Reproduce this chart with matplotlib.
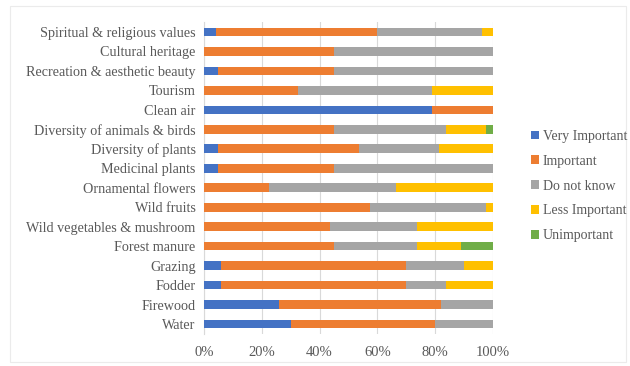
import matplotlib
matplotlib.use("Agg")
import matplotlib.pyplot as plt
import numpy as np
from matplotlib.patches import Rectangle

categories = ["Spiritual & religious values", "Cultural heritage", "Recreation & aesthetic beauty",
              "Tourism", "Clean air", "Diversity of animals & birds", "Diversity of plants",
              "Medicinal plants", "Ornamental flowers", "Wild fruits", "Wild vegetables & mushroom",
              "Forest manure", "Grazing", "Fodder", "Firewood", "Water"]
very_important = [4, 0, 5, 0, 79, 0, 5, 5, 0, 0, 0, 0, 6, 6, 26, 30]
important      = [56, 45, 40, 32.5, 21, 45, 48.7, 40, 22.4, 57.6, 43.7, 44.9, 64, 64, 55.9, 50]
do_not_know    = [36.3, 55, 55, 46.5, 0, 38.7, 27.6, 55, 43.9, 40, 30, 28.8, 20, 13.7, 18.1, 20]
less_important = [3.7, 0, 0, 21, 0, 14, 18.7, 0, 33.7, 2.4, 26.3, 15.1, 10, 16.3, 0, 0]
unimportant    = [0, 0, 0, 0, 0, 2.3, 0, 0, 0, 0, 0, 11.2, 0, 0, 0, 0]
series_names = ["Very Important", "Important", "Do not know", "Less Important", "Unimportant"]
colors = ["#4472C4", "#ED7D31", "#A5A5A5", "#FFC000", "#70AD47"]
xticks = [0, 20, 40, 60, 80, 100]

plt.rcParams['font.family'] = ['Liberation Serif', 'DejaVu Serif']
txt = "#595959"

fig = plt.figure(figsize=(6.3, 3.66), dpi=100)
fig.patches.append(Rectangle((10/630, 4/366), 616/630, 356/366, transform=fig.transFigure,
                             fill=False, edgecolor="#EBEBEB", linewidth=0.8))
ax = fig.add_axes([204/630, 1 - 333.7/366, 289/630, (333.7 - 22.3)/366])

y = np.arange(len(categories))[::-1]
left = np.zeros(len(categories))
for name, vals, c in zip(series_names, [very_important, important, do_not_know, less_important, unimportant], colors):
    vals = np.array(vals, dtype=float)
    ax.barh(y, vals, left=left, height=0.45, color=c, label=name, zorder=3)
    left += vals

ax.set_xlim(0, 100)
ax.set_ylim(-0.5, len(categories) - 0.5)
ax.set_xticks(xticks)
ax.set_xticklabels([f"{t}%" for t in xticks], fontsize=10.5, color=txt)
ax.set_yticks(y)
ax.set_yticklabels(categories, fontsize=10.2, color=txt)
ax.tick_params(axis='both', length=0, pad=6)
ax.tick_params(axis='x', pad=9)
ax.grid(axis='x', color="#D9D9D9", linewidth=0.8, zorder=0)
for s in ["top", "right", "bottom"]:
    ax.spines[s].set_visible(False)
ax.spines["left"].set_color("#D9D9D9")
ax.spines["left"].set_linewidth(0.8)

leg = fig.legend(loc="center left", bbox_to_anchor=(518/630, 1 - 186/366), frameon=False,
                 fontsize=10, handlelength=0.6, handleheight=0.6, handletextpad=0.3,
                 labelspacing=0.85, labelcolor=txt)

fig.savefig("out.png", dpi=100)
